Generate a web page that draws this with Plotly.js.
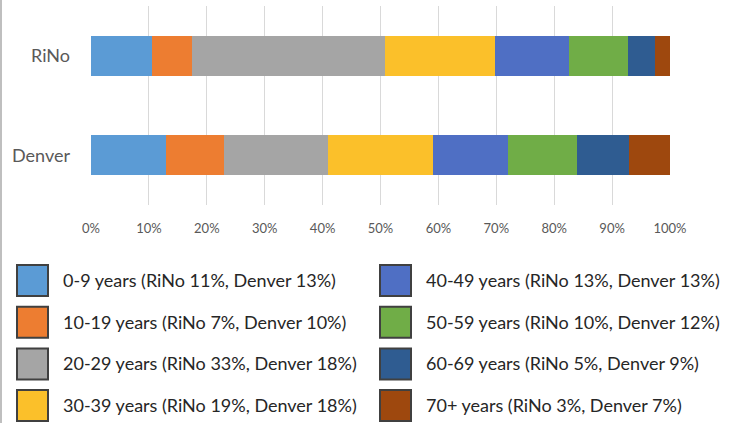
<!DOCTYPE html>
<html>
<head>
<meta charset="utf-8">
<script src="https://cdn.plot.ly/plotly-3.0.1.min.js"></script>
<style>html,body{margin:0;padding:0;background:#fff;}#chart{width:737px;height:423px;}</style>
</head>
<body>
<div id="chart"></div>
<script>
const categories = ["RiNo", "Denver"];
const seriesNames = ["0-9 years", "10-19 years", "20-29 years", "30-39 years", "40-49 years", "50-59 years", "60-69 years", "70+ years"];
const rinoValues = [10.5, 7.0, 33.2, 19.1, 12.7, 10.3, 4.6, 2.6];
const denverValues = [13, 10, 18, 18, 13, 12, 9, 7];
const legendLabels = [
  "0-9 years (RiNo 11%, Denver 13%)",
  "10-19 years (RiNo 7%, Denver 10%)",
  "20-29 years (RiNo 33%, Denver 18%)",
  "30-39 years (RiNo 19%, Denver 18%)",
  "40-49 years (RiNo 13%, Denver 13%)",
  "50-59 years (RiNo 10%, Denver 12%)",
  "60-69 years (RiNo 5%, Denver 9%)",
  "70+ years (RiNo 3%, Denver 7%)"
];
const colors = ["#5B9BD5", "#ED7D31", "#A5A5A5", "#FBC02A", "#4F6FC4", "#70AD47", "#2F5C91", "#9E480E"];
const xTickVals = [0,10,20,30,40,50,60,70,80,90,100];
const xTickText = ["0%","10%","20%","30%","40%","50%","60%","70%","80%","90%","100%"];

const W = 737, H = 423;
const M = {l: 91, r: 67, t: 6, b: 218};
const pw = W - M.l - M.r, ph = H - M.t - M.b;
const px2x = p => (p - M.l) / pw;
const py2y = p => (H - M.b - p) / ph;

const traces = seriesNames.map((name, i) => ({
  type: 'bar',
  orientation: 'h',
  name: name,
  y: categories,
  x: [rinoValues[i], denverValues[i]],
  marker: {color: colors[i], line: {width: 0}},
  hoverinfo: 'none'
}));

const shapes = [];
const annotations = [];
legendLabels.forEach((lab, i) => {
  const col = Math.floor(i / 4), row = i % 4;
  const bx = col === 0 ? 17 : 380;
  const by = 265 + row * 41.7;
  shapes.push({
    type: 'rect', xref: 'paper', yref: 'paper',
    x0: px2x(bx), x1: px2x(bx + 31), y0: py2y(by), y1: py2y(by + 31),
    fillcolor: colors[i], line: {color: '#404040', width: 2}
  });
  annotations.push({
    xref: 'paper', yref: 'paper', x: px2x(bx + 44), y: py2y(by + 15),
    xanchor: 'left', yanchor: 'middle', showarrow: false,
    text: lab, font: {family: 'Lato, sans-serif', size: 18, color: '#262626'}
  });
});
shapes.push({type: 'line', xref: 'paper', yref: 'paper', x0: px2x(1), x1: px2x(1), y0: py2y(0), y1: py2y(H), line: {color: '#bfbfbf', width: 2}});

const layout = {
  width: W, height: H,
  margin: M,
  paper_bgcolor: '#ffffff', plot_bgcolor: '#ffffff',
  barmode: 'stack',
  bargap: 0.6,
  showlegend: false,
  xaxis: {
    range: [0, 100], tickvals: xTickVals, ticktext: xTickText,
    showgrid: true, gridcolor: '#d9d9d9', gridwidth: 1, zeroline: false,
    showline: false, ticks: '', ticklen: 0,
    ticklabelstandoff: 14,
    tickfont: {family: 'Lato, sans-serif', size: 13, color: '#595959'},
    fixedrange: true
  },
  yaxis: {
    type: 'category', autorange: 'reversed', range: [-0.5, 1.5],
    showgrid: false, zeroline: false, showline: false, ticks: '',
    ticklabelstandoff: 20,
    tickfont: {family: 'Lato, sans-serif', size: 18, color: '#595959'},
    fixedrange: true
  },
  shapes: shapes,
  annotations: annotations
};

Plotly.newPlot('chart', traces, layout, {displayModeBar: false, staticPlot: true});
</script>
</body>
</html>
